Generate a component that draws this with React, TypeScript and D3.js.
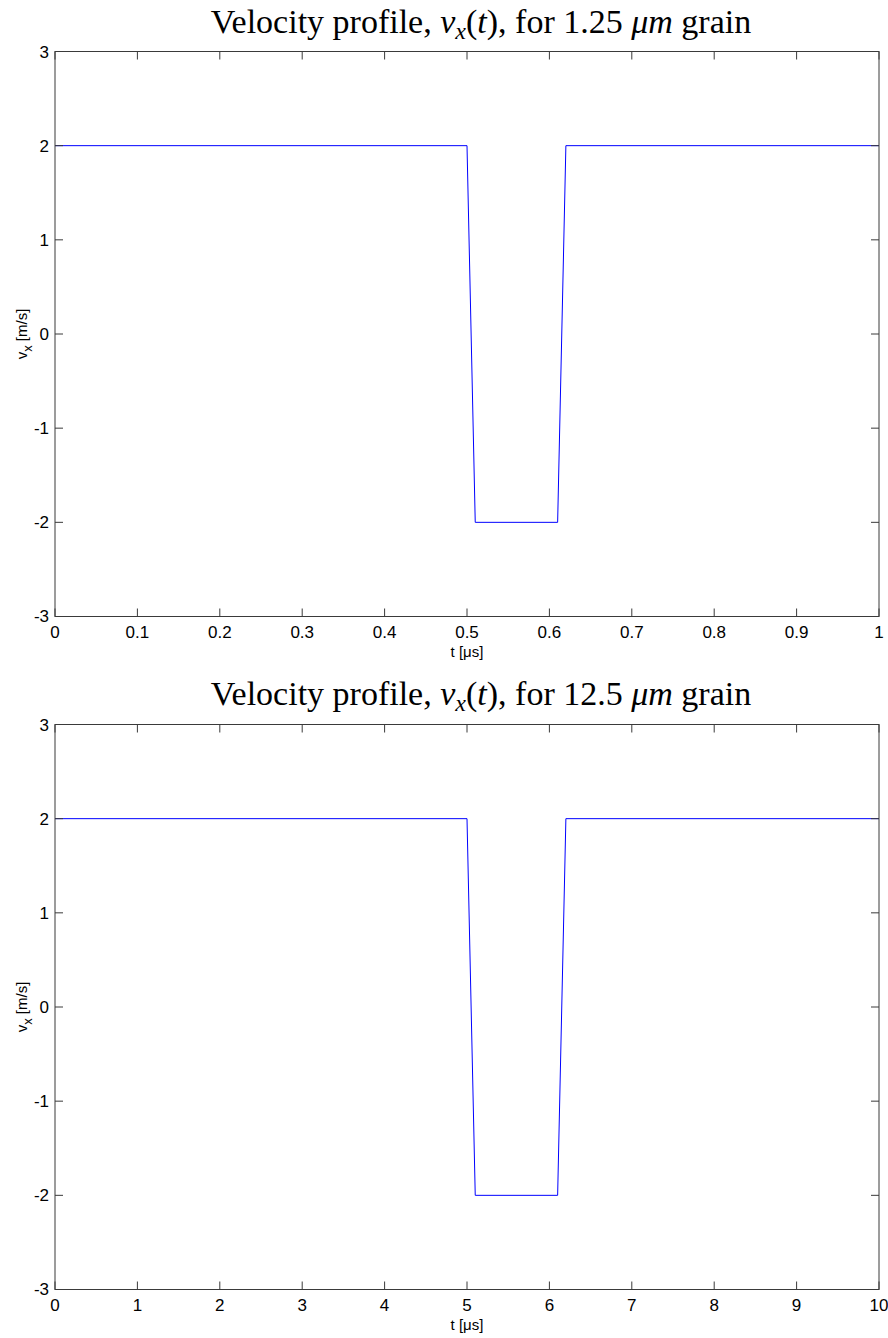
import { useEffect, useRef } from "react";
import * as d3 from "d3";

// Velocity profile points (t, v_x) for each grain size
const timeSmall = [0, 0.5, 0.51, 0.61, 0.62, 1];
const timeLarge = [0, 5, 5.1, 6.1, 6.2, 10];
const velocity = [2, 2, -2, -2, 2, 2];

const xTicksSmall = [0, 0.1, 0.2, 0.3, 0.4, 0.5, 0.6, 0.7, 0.8, 0.9, 1];
const xTicksLarge = [0, 1, 2, 3, 4, 5, 6, 7, 8, 9, 10];
const yTicks = [-3, -2, -1, 0, 1, 2, 3];

const panels = [
  { size: "1.25", times: timeSmall, ticks: xTicksSmall, domain: [0, 1], top: 51.5 },
  { size: "12.5", times: timeLarge, ticks: xTicksLarge, domain: [0, 10], top: 724.5 },
];

function App() {
  const ref = useRef(null);

  useEffect(() => {
    document.body.style.margin = "0";
    const svgEl = ref.current;
    const svg = d3.select(svgEl);

    const left = 55;
    const right = 879;
    const plotH = 565;
    const axisColor = "#3a3a3a";
    const tickLen = 8;

    panels.forEach((p, pi) => {
      const g = svg.append("g");
      const x = d3.scaleLinear().domain(p.domain).range([left, right]);
      const y = d3.scaleLinear().domain([-3, 3]).range([p.top + plotH, p.top]);

      // Title
      const title = g
        .append("text")
        .attr("x", 481)
        .attr("y", p.top - (pi === 0 ? 19 : 20))
        .attr("text-anchor", "middle")
        .style("font-family", "'Liberation Serif', 'DejaVu Serif', serif")
        .style("font-size", "34px")
        .attr("fill", "#000");
      title.append("tspan").text("Velocity profile, ");
      title.append("tspan").style("font-style", "italic").text("v");
      title.append("tspan").style("font-style", "italic").style("font-size", "24px").attr("dy", 6).text("x");
      title.append("tspan").attr("dy", -6).text("(");
      title.append("tspan").style("font-style", "italic").text("t");
      title.append("tspan").text(`), for ${p.size} `);
      title.append("tspan").style("font-style", "italic").text("μm");
      title.append("tspan").text(" grain");

      // Line
      const line = d3
        .line<number>()
        .x((d, i) => x(p.times[i]))
        .y((d) => y(d));
      g.append("path")
        .datum(velocity)
        .attr("d", line)
        .attr("fill", "none")
        .attr("stroke", "#0000ff")
        .attr("stroke-width", 1);

      // Box
      g.append("rect")
        .attr("x", left)
        .attr("y", p.top)
        .attr("width", right - left)
        .attr("height", plotH)
        .attr("fill", "none")
        .attr("stroke", axisColor)
        .attr("stroke-width", 1);

      // Ticks on all four sides, pointing inward
      const tk = g.append("g").attr("stroke", axisColor).attr("stroke-width", 1);
      p.ticks.forEach((t) => {
        tk.append("line")
          .attr("x1", x(t)).attr("x2", x(t))
          .attr("y1", y(-3)).attr("y2", y(-3) - tickLen);
        tk.append("line")
          .attr("x1", x(t)).attr("x2", x(t))
          .attr("y1", y(3)).attr("y2", y(3) + tickLen);
      });
      yTicks.forEach((t) => {
        tk.append("line")
          .attr("x1", left).attr("x2", left + tickLen)
          .attr("y1", y(t)).attr("y2", y(t));
        tk.append("line")
          .attr("x1", right).attr("x2", right - tickLen)
          .attr("y1", y(t)).attr("y2", y(t));
      });

      const labelFont = "'Liberation Sans', Arial, sans-serif";

      // X tick labels
      g.append("g")
        .selectAll("text")
        .data(p.ticks)
        .enter()
        .append("text")
        .attr("x", (d) => x(d))
        .attr("y", y(-3) + 21)
        .attr("text-anchor", "middle")
        .style("font-family", labelFont)
        .style("font-size", "17px")
        .text((d) => String(d));

      // Y tick labels
      g.append("g")
        .selectAll("text")
        .data(yTicks)
        .enter()
        .append("text")
        .attr("x", left - 6)
        .attr("y", (d) => y(d) + (d === -3 ? 5 : 6))
        .attr("text-anchor", "end")
        .style("font-family", labelFont)
        .style("font-size", "17px")
        .text((d) => String(d));

      // X axis label
      g.append("text")
        .attr("x", (left + right) / 2)
        .attr("y", y(-3) + 40)
        .attr("text-anchor", "middle")
        .style("font-family", labelFont)
        .style("font-size", "15px")
        .text("t [μs]");

      // Y axis label
      const yl = g
        .append("text")
        .attr("transform", `translate(27, ${p.top + plotH / 2}) rotate(-90)`)
        .attr("text-anchor", "middle")
        .style("font-family", labelFont)
        .style("font-size", "15px");
      yl.append("tspan").text("v");
      yl.append("tspan").attr("dy", 5).style("font-size", "13px").text("x");
      yl.append("tspan").attr("dy", -5).text(" [m/s]");
    });

    return () => {
      svg.selectAll("*").remove();
    };
  });

  return <svg ref={ref} width={888} height={1338} style={{ display: "block", background: "#fff" }} />;
}

export default App;
